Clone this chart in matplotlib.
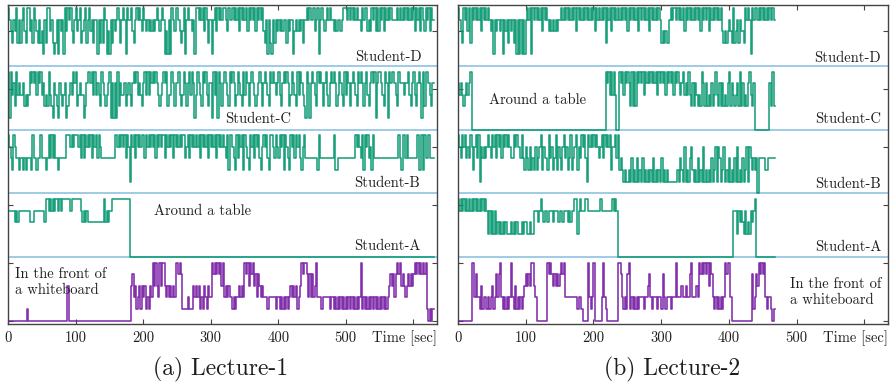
import numpy as np
import matplotlib
matplotlib.use("Agg")
import matplotlib.pyplot as plt

plt.rcParams['font.family'] = ['cmr10', 'DejaVu Serif']
plt.rcParams['axes.unicode_minus'] = False

# ---------------- data -----------------
# sampling step (seconds); every digit is the level (0..5) at one sample
DT = 2.0

lecture1_D = """
54324 35242 45325 53425 43242 31425 53421 24143 41535 45324
53452 34524 53424 41424 25413 14243 45424 54154 45324 54543
54343 43434 54345 41314 15435 54323 51454 43415 54545 35424
41453 54545 54354 45454 53545 45354 54535 45453 24142 14243
43434 42434 41343 43424 45454 45345 14543 45454 43434 43455
54545 45454 43545 53435 45353 54535 45454 44454 54545 45454
53545 35435 45354
"""
lecture1_C = """
51534 25343 34232 35454 53545 34232 53214 32143 23412 34354
52343 31245 54535 34325 43234 51414 15243 34234 32454 53432
45353 54545 43234 54523 35424 45323 54245 35413 54325 45324
41535 15424 54325 45423 54325 35424 54323 45424 54325 45434
53245 45423 54325 35432 15414 54325 45424 53245 45423 54325
35424 54325 45424 53245 45145 54325 41545 54325 44434 45324
53245 41525 54324
"""
lecture1_B = """
54325 43323 32323 33253 32335 33323 53535 33233 33355 54545
55453 53545 45354 53543 33333 33335 54545 45354 15453 54545
53545 45453 54545 53545 45354 54545 53453 54545 45354 54535
45453 54545 43525 54325 35452 54325 45354 53245 45325 54354
35452 54325 45354 53245 33333 33332 53333 33333 35223 33333
33333 33545 43525 45342 53333 33333 33333 33335 32553 53333
33352 25253 35333
"""
lecture1_A = """
44444 34344 44444 43334 44444 44355 45454 55454 55555 54555
55554 34343 33333 33333 35343 44555 55555 55555 00000 00000
00000 00000 00000 00000 00000 00000 00000 00000 00000 00000
00000 00000 00000 00000 00000 00000 00000 00000 00000 00000
00000 00000 00000 00000 00000 00000 00000 00000 00000 00000
00000 00000 00000 00000 00000 00000 00000 00000 00000 00000
00000 00000 00000
"""
lecture1_W = """
00000 00000 00001 00000 00000 00000 00000 00000 00003 00000
00000 00000 00000 00000 00000 00000 00000 00000 03423 12313
23121 32535 32535 53232 32325 54541 11121 11323 23121 32132
25454 54535 23232 21212 23232 54535 45342 43232 22122 22212
21212 12123 23231 23545 54242 42352 22122 22212 21212 12121
21212 12121 25121 21212 12121 21212 12343 42454 53432 34343
45454 54545 10101
"""

lecture2_D = """
54325 45352 54545 45354 54543 41434 43414 34243 42414 14141
45451 54545 45354 54343 43434 45454 54545 45354 54545 45454
53545 45452 54535 45454 54545 35454 54535 45454 53545 45454
23232 24545 54545 45354 54545 45453 54545 35454 54545 32323
43252 34243 32545 41545 54545 45454 5454
"""
lecture2_C = """
43432 34345 00000 00000 00000 00000 00000 00000 00000 00000
00000 00000 00000 00000 00000 00000 00000 00000 00000 00000
00000 00005 45353 53005 45354 54252 52545 45354 54545 45354
54535 45453 54543 45343 53242 43232 54242 32423 53242 42324
52432 34252 42324 53240 00000 00000 4252
"""
lecture2_B = """
54354 53435 42453 51434 34543 54535 45354 54543 35454 43532
43242 32423 45243 32534 23524 32453 42352 34524 35453 15454
54543 45354 54524 45352 32121 12131 21312 13121 21213 12121
31212 11111 11213 21412 13421 21312 14121 21312 41431 24121
31213 14121 31241 43232 30333 33223 3333
"""
lecture2_A = """
54545 45454 54545 45454 54242 42423 23232 32223 23232 22323
32232 24443 45434 43444 34443 44344 43434 45524 54445 54444
44444 54444 44445 45400 00000 00000 00000 00000 00000 00000
00000 00000 00000 00000 00000 00000 00000 00000 00000 00000
00044 42434 32423 24345 00000 00000 0000
"""
lecture2_W = """
00000 00000 55242 21312 21212 31242 45212 12125 21312 12123
43435 53200 00000 05454 34343 45452 22222 22212 21000 05212
50000 02521 00000 00055 42121 45121 21212 22122 34212 22122
14212 22122 25222 32232 24522 23254 54545 35421 21212 12545
52000 00000 00000 00412 43545 45212 2101
"""

strip_names = ["Student-A", "Student-B", "Student-C", "Student-D"]
xtick_values = [0, 100, 200, 300, 400, 500, 600]
xtick_labels = ["0", "100", "200", "300", "400", "500", ""]
captions = ["(a) Lecture-1", "(b) Lecture-2"]

# ---------------- style -----------------
GREEN = "#00956c"
PURPLE = "#7318a2"
SEP = "#9fcbe6"
STRIP = 5.5          # vertical size of one strip (in level units)
TEXTC = "#1e1e1e"


def parse(s):
    return np.array([int(c) for c in s if c.isdigit()], dtype=float)


def draw_series(ax, s, base, color):
    lv = parse(s)
    t = np.arange(len(lv) + 1) * DT
    y = np.append(lv, lv[-1]) + base
    ax.step(t, y, where="post", color=color, lw=1.15, alpha=0.9, zorder=2)


fig = plt.figure(figsize=(8.9, 3.85), dpi=100)
ax1 = fig.add_axes([8 / 890, 61 / 385, 429 / 890, 319.5 / 385])
ax2 = fig.add_axes([458 / 890, 61 / 385, 430 / 890, 319.5 / 385])

panels = [
    (ax1, [lecture1_W, lecture1_A, lecture1_B, lecture1_C, lecture1_D]),
    (ax2, [lecture2_W, lecture2_A, lecture2_B, lecture2_C, lecture2_D]),
]

for ax, series in panels:
    for k in range(1, 5):
        ax.axhline(k * STRIP, color=SEP, lw=1.4, zorder=1)
    for k, s in enumerate(series):
        draw_series(ax, s, k * STRIP, PURPLE if k == 0 else GREEN)
    ax.set_xlim(0, 635)
    ax.set_ylim(-0.3, 27.3)
    ax.set_xticks(xtick_values)
    ax.set_xticklabels(xtick_labels)
    ax.set_yticks([0, 5, 10, 15, 20, 25])
    ax.set_yticklabels([])
    ax.tick_params(direction="in", top=True, right=True, length=3.5,
                   width=0.8, colors="#444444", labelcolor=TEXTC,
                   labelsize=10.5, pad=5)
    for sp in ax.spines.values():
        sp.set_color("#444444")
        sp.set_linewidth(1.0)
    ax.text(635, -1.85, "Time [sec]", ha="right", va="baseline",
            fontsize=10.5, color=TEXTC, clip_on=False)

FS = 10.5
# labels, lecture 1
ax1.text(613, 22.75, "Student-D", ha="right", va="center", fontsize=FS, color=TEXTC)
ax1.text(370, 17.4, "Student-C", ha="center", va="center", fontsize=FS, color=TEXTC)
ax1.text(610, 11.85, "Student-B", ha="right", va="center", fontsize=FS, color=TEXTC)
ax1.text(610, 6.45, "Student-A", ha="right", va="center", fontsize=FS, color=TEXTC)
ax1.text(288, 9.47, "Around a table", ha="center", va="center", fontsize=FS, color=TEXTC)
ax1.text(11, 4.6, "In the front of\na whiteboard", ha="left", va="top",
         fontsize=FS, color=TEXTC, linespacing=1.2)

# labels, lecture 2
ax2.text(625, 22.7, "Student-D", ha="right", va="center", fontsize=FS, color=TEXTC)
ax2.text(625, 17.4, "Student-C", ha="right", va="center", fontsize=FS, color=TEXTC)
ax2.text(117, 19.05, "Around a table", ha="center", va="center", fontsize=FS, color=TEXTC)
ax2.text(625, 11.8, "Student-B", ha="right", va="center", fontsize=FS, color=TEXTC)
ax2.text(625, 6.35, "Student-A", ha="right", va="center", fontsize=FS, color=TEXTC)
ax2.text(490, 3.7, "In the front of\na whiteboard", ha="left", va="top",
         fontsize=FS, color=TEXTC, linespacing=1.2)

fig.text(221 / 890, 1 - 369 / 385, captions[0], ha="center", va="center",
         fontsize=17, color=TEXTC)
fig.text(672 / 890, 1 - 369 / 385, captions[1], ha="center", va="center",
         fontsize=17, color=TEXTC)

fig.savefig("out.png", dpi=100)
